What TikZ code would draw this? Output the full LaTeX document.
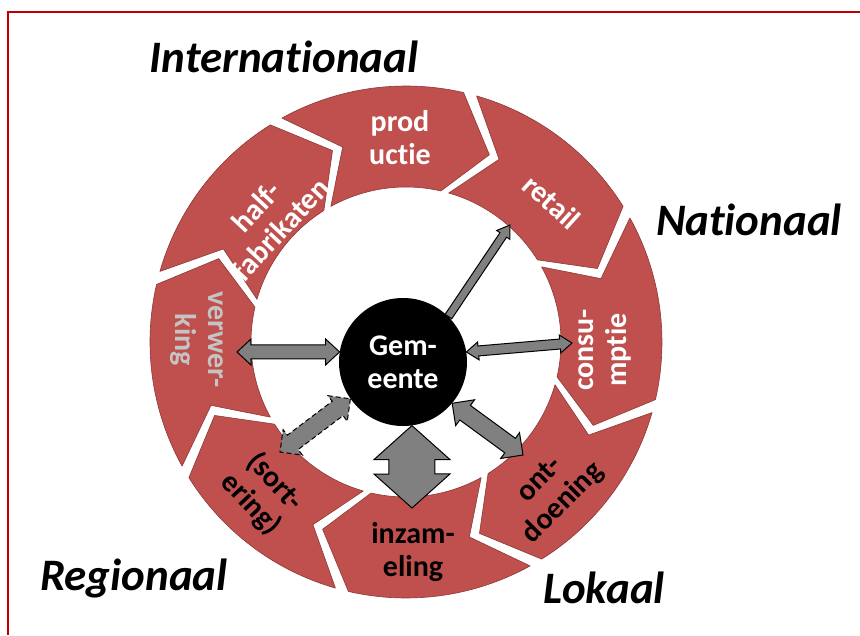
\documentclass[tikz,border=0pt]{standalone}
\usepackage{fontspec}
\setmainfont{Carlito}[Ligatures={NoCommon}]
\usetikzlibrary{calc}
\definecolor{segred}{HTML}{C0504D}
\definecolor{segline}{HTML}{8C3A38}
\definecolor{framered}{HTML}{C00000}
\definecolor{arrgray}{HTML}{808080}
\definecolor{paletext}{HTML}{C4C4C4}

% block arrow with two heads: [opts]{from}{to}{shaft half}{head half}{head length}
\newcommand{\dblarrow}[6][]{%
  \draw[blockarr,#1] (#2) -- ($(#2)!#6pt!(#3)!#5pt!90:(#3)$) -- ($(#2)!#6pt!(#3)!#4pt!90:(#3)$)
    -- ($(#3)!#6pt!(#2)!#4pt!-90:(#2)$) -- ($(#3)!#6pt!(#2)!#5pt!-90:(#2)$) -- (#3)
    -- ($(#3)!#6pt!(#2)!#5pt!90:(#2)$) -- ($(#3)!#6pt!(#2)!#4pt!90:(#2)$)
    -- ($(#2)!#6pt!(#3)!#4pt!-90:(#3)$) -- ($(#2)!#6pt!(#3)!#5pt!-90:(#3)$) -- cycle;}
% block arrow with one head
\newcommand{\sglarrow}[6][]{%
  \draw[blockarr,#1] ($(#2)!#4pt!90:(#3)$) -- ($(#3)!#6pt!(#2)!#4pt!-90:(#2)$)
    -- ($(#3)!#6pt!(#2)!#5pt!-90:(#2)$) -- (#3) -- ($(#3)!#6pt!(#2)!#5pt!90:(#2)$)
    -- ($(#3)!#6pt!(#2)!#4pt!90:(#2)$) -- ($(#2)!#4pt!-90:(#3)$) -- cycle;}

\begin{document}
\begin{tikzpicture}[x=1pt,y=1pt]
        \tikzset{seg/.style = {fill=segred, draw=segline, line width=0.6pt, line join=round}}
        \tikzset{segtext/.style = {align=center, font=\fontsize{30}{33}\selectfont\bfseries, inner sep=0pt}}
        \tikzset{title/.style = {font=\fontsize{45}{48}\selectfont\bfseries\itshape, inner sep=0pt}}
        \tikzset{blockarr/.style = {fill=arrgray, draw=black, line width=1pt, line join=miter}}

        \useasboundingbox (-406,-293) rectangle (454,342);
        \draw[framered, line width=2pt] (-398,-293) -- (-398,330) -- (454,330);

        % ring of chevrons, clockwise
        \foreach \c in {92,47,2,-43,-88,-133,-178,137}{
          \draw[seg] (\c+27:256) arc[start angle=\c+27, end angle=\c-15, radius=256]
            -- (\c-26:205) -- (\c-15:155) arc[start angle=\c-15, end angle=\c+27, radius=155]
            -- (\c+16:205) -- cycle;
        }

        \node[segtext, white] (prod) at (-6,204) {prod\\uctie};
        \node[segtext, white, rotate=47] (half) at (-138,124) {half-\\fabrikaten};
        \node[segtext, white, rotate=-42] (retail) at (146,140) {retail};
        \node[segtext, white, rotate=90] (consu) at (199,-8) {consu-\\mptie};
        \node[segtext, rotate=45] (ont) at (146,-150) {ont-\\doening};
        \node[segtext] (inzam) at (7,-210) {inzam-\\eling};
        \node[segtext, rotate=-47] (sort) at (-143,-151) {(sort-\\ering)};
        \node[segtext, paletext, rotate=-90] (verw) at (-209,2) {verwer-\\king};

        \node[title] (intl) at (-122,285) {Internationaal};
        \node[title] (natl) at (343,122) {Nationaal};
        \node[title] (regl) at (-272,-236) {Regionaal};
        \node[title] (lokl) at (198,-246) {Lokaal};

        \node[circle, fill=black, minimum size=128pt, inner sep=0pt, align=center,
              font=\fontsize{30}{33}\selectfont\bfseries, text=white] (gem) at (-3,-20) {Gem-\\eente};

        \coordinate (toverw) at (-169,-10);
        \coordinate (toretail) at (104,117);
        \coordinate (toconsu) at (166,-1);
        \coordinate (toont) at (117,-113);
        \coordinate (toinzam) at (6,-166);
        \coordinate (tosort) at (-126,-110);

        \dblarrow{gem.171}{toverw}{7}{13}{14}
        \sglarrow{gem.45}{toretail}{4}{8}{12}
        \dblarrow{gem.9}{toconsu}{5}{9}{12}
        \dblarrow{gem.-40}{toont}{9}{16}{16}
        \dblarrow{gem.-82}{toinzam}{23}{38}{34}
        \dblarrow[dashed, dash pattern=on 5pt off 3pt]{gem.215}{tosort}{9}{16}{16}
\end{tikzpicture}
\end{document}
